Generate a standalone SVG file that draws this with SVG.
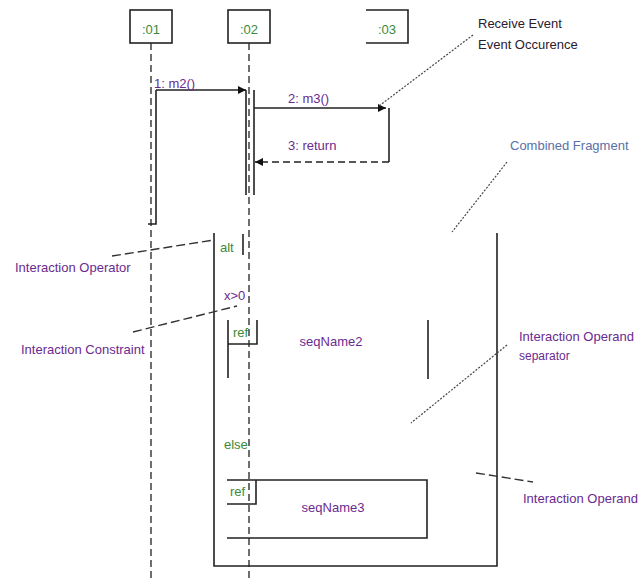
<svg xmlns="http://www.w3.org/2000/svg" width="639" height="580" viewBox="0 0 639 580">
<style>
text{font-family:"Liberation Sans",Arial,sans-serif;font-size:13px}
.g{fill:#3a8a3a}.p{fill:#6a2a90}.d{fill:#2a2030}.b{fill:#5a70a8}
.s{fill:none;stroke:#222;stroke-width:1.6}
.ll{fill:none;stroke:#222;stroke-width:1.3;stroke-dasharray:7 4}
.dot{fill:none;stroke:#444;stroke-width:1.2;stroke-dasharray:2 1.5}
.dash{fill:none;stroke:#333;stroke-width:1.4;stroke-dasharray:9 4}
</style>
<defs>
<marker id="ah" viewBox="0 0 10 10" refX="10" refY="5" markerWidth="8" markerHeight="8" markerUnits="userSpaceOnUse" orient="auto"><path d="M0 0L10 5L0 10z" fill="#111"/></marker>
</defs>
<rect width="639" height="580" fill="#fff"/>
<g id="lifeline-01">
<rect x="130" y="10" width="42" height="33" class="s"/>
<text x="151" y="34" text-anchor="middle" class="g">:01</text>
<line x1="151" y1="43" x2="151" y2="580" class="ll"/>
<path d="M156 90V224H148" class="s"/>
</g>
<g id="lifeline-02">
<rect x="228" y="10" width="42" height="33" class="s"/>
<text x="249" y="34" text-anchor="middle" class="g">:02</text>
<line x1="249" y1="43" x2="249" y2="580" class="ll"/>
<path d="M246 90V195M254 90V195" class="s"/>
</g>
<g id="lifeline-03">
<path d="M366 10H408V43H366" class="s"/>
<text x="387" y="34" text-anchor="middle" class="g">:03</text>
</g>
<g id="combined-fragment">
<path d="M214 233V566H497V233" class="s"/>
<text x="220" y="252" class="g">alt</text>
<path d="M243 234V255" class="s"/>
<text x="224" y="300" class="p">x&gt;0</text>
<text x="224" y="449" class="g">else</text>
</g>
<g id="ref-seqName2">
<path d="M228 320V378M228 344H257V320M428 320V379" class="s"/>
<text x="233" y="337" class="g">ref</text>
<text x="331" y="346" text-anchor="middle" class="p">seqName2</text>
</g>
<g id="ref-seqName3">
<path d="M227 480H427V538H227M227 504H256V480" class="s"/>
<text x="230" y="496" class="g">ref</text>
<text x="333" y="512" text-anchor="middle" class="p">seqName3</text>
</g>
<g id="note-receive-event">
<text x="478" y="28" class="d">Receive Event</text>
<text x="478" y="49" class="d">Event Occurence</text>
</g>
<g id="note-combined-fragment"><text x="510" y="150" class="b">Combined Fragment</text></g>
<g id="note-interaction-operator"><text x="15" y="272" class="p">Interaction Operator</text></g>
<g id="note-interaction-constraint"><text x="21" y="354" class="p">Interaction Constraint</text></g>
<g id="note-operand-separator">
<text x="519" y="341" class="p">Interaction Operand</text>
<text x="519" y="360" class="p" style="font-size:12px">separator</text>
</g>
<g id="note-interaction-operand"><text x="523" y="503" class="p">Interaction Operand</text></g>
<g id="connectors">
<line x1="156" y1="90" x2="246" y2="90" class="s" marker-end="url(#ah)"/>
<text x="154" y="88" class="p">1: m2()</text>
<line x1="254" y1="108" x2="386" y2="108" class="s" marker-end="url(#ah)"/>
<text x="288" y="103" class="p">2: m3()</text>
<path d="M389 108V162" class="s"/>
<line x1="389" y1="162" x2="255" y2="162" class="s" stroke-dasharray="7 4" marker-end="url(#ah)"/>
<text x="288" y="150" class="p">3: return</text>
<line x1="473" y1="35" x2="379" y2="106" class="dot"/>
<line x1="507" y1="162" x2="452" y2="232" class="dot"/>
<line x1="507" y1="345" x2="411" y2="423" class="dot"/>
<line x1="112" y1="256" x2="214" y2="240" class="dash"/>
<line x1="133" y1="332" x2="237" y2="306" class="dash"/>
<line x1="476" y1="473" x2="533" y2="482" class="dash"/>
</g>
</svg>
